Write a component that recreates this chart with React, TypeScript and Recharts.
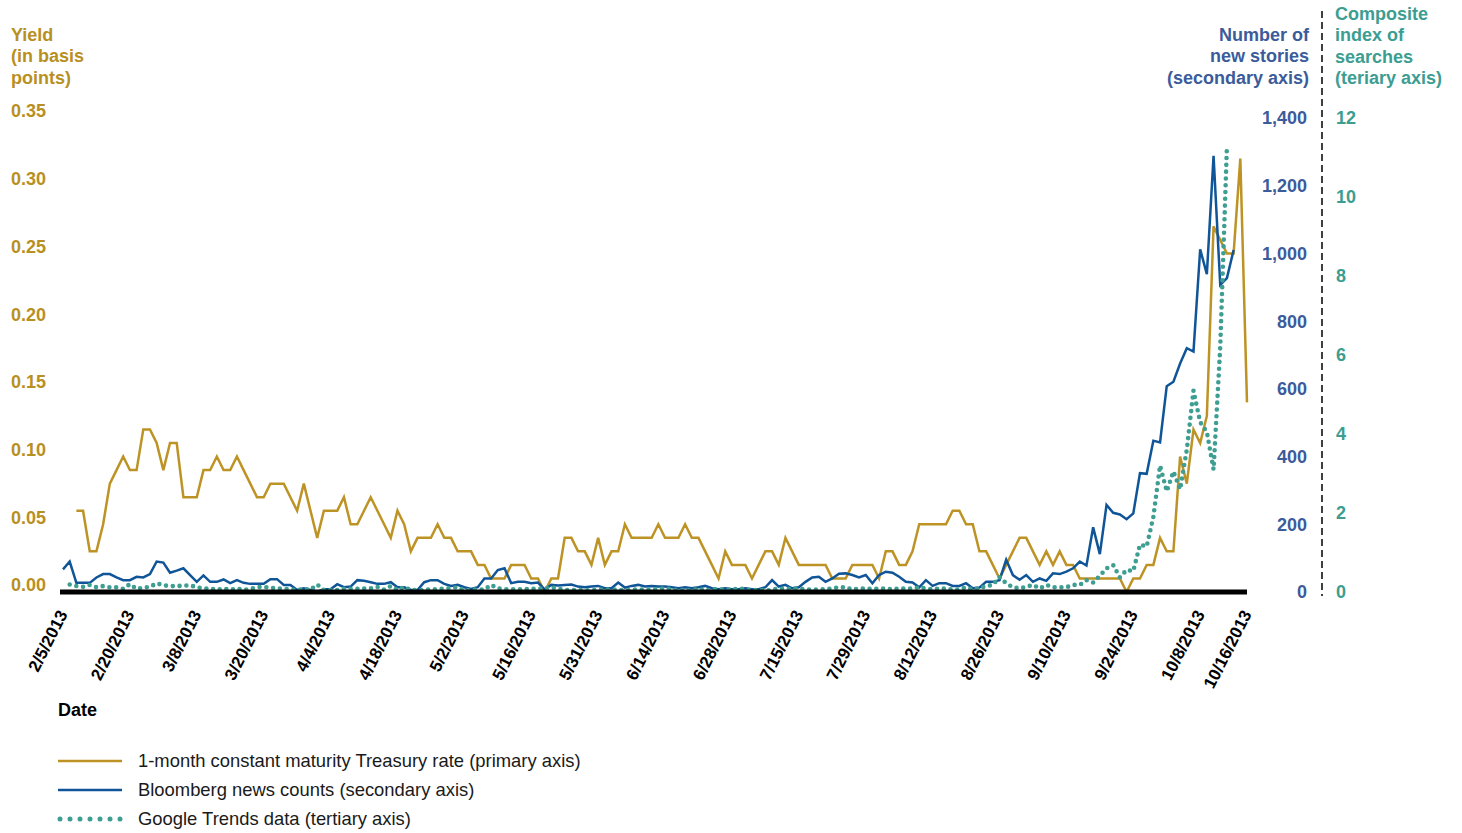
import { LineChart, Line, XAxis, YAxis } from "recharts";

const GOLD = "#BE9325";
const GOLD_TEXT = "#B8901F";
const BLUE = "#0F5597";
const BLUE_TEXT = "#3B5B9B";
const TEAL = "#3F9E92";
const TEAL_TEXT = "#3C9D91";
const FONT = '"Liberation Sans", Arial, sans-serif';

// 1-month constant maturity Treasury rate (primary axis), one value per trading day
const yieldRate: (number | null)[] = [
  null, null, 0.06, 0.06, 0.03, 0.03, 0.05, 0.08, 0.09, 0.1,
  0.09, 0.09, 0.12, 0.12, 0.11, 0.09, 0.11, 0.11, 0.07, 0.07,
  0.07, 0.09, 0.09, 0.1, 0.09, 0.09, 0.1, 0.09, 0.08, 0.07,
  0.07, 0.08, 0.08, 0.08, 0.07, 0.06, 0.08, 0.06, 0.04, 0.06,
  0.06, 0.06, 0.07, 0.05, 0.05, 0.06, 0.07, 0.06, 0.05, 0.04,
  0.06, 0.05, 0.03, 0.04, 0.04, 0.04, 0.05, 0.04, 0.04, 0.03,
  0.03, 0.03, 0.02, 0.02, 0.01, 0.01, 0.01, 0.02, 0.02, 0.02,
  0.01, 0.01, 0.0, 0.01, 0.01, 0.04, 0.04, 0.03, 0.03, 0.02,
  0.04, 0.02, 0.03, 0.03, 0.05, 0.04, 0.04, 0.04, 0.04, 0.05,
  0.04, 0.04, 0.04, 0.05, 0.04, 0.04, 0.03, 0.02, 0.01, 0.03,
  0.02, 0.02, 0.02, 0.01, 0.02, 0.03, 0.03, 0.02, 0.04, 0.03,
  0.02, 0.02, 0.02, 0.02, 0.02, 0.01, 0.01, 0.01, 0.02, 0.02,
  0.02, 0.02, 0.01, 0.03, 0.03, 0.02, 0.02, 0.03, 0.05, 0.05,
  0.05, 0.05, 0.05, 0.06, 0.06, 0.05, 0.05, 0.03, 0.03, 0.02,
  0.01, 0.02, 0.03, 0.04, 0.04, 0.03, 0.02, 0.03, 0.02, 0.03,
  0.02, 0.02, 0.01, 0.01, 0.01, 0.01, 0.01, 0.01, 0.01, 0.0,
  0.01, 0.01, 0.02, 0.02, 0.04, 0.03, 0.03, 0.1, 0.08, 0.12,
  0.11, 0.13, 0.27, 0.26, 0.25, 0.25, 0.32, 0.14,
];

// Bloomberg news counts (secondary axis)
const newsCount: (number | null)[] = [
  67, 90, 27, 27, 27, 43, 53, 53, 43, 35,
  35, 45, 43, 53, 90, 87, 57, 63, 70, 50,
  30, 49, 30, 30, 37, 26, 35, 27, 24, 24,
  24, 38, 38, 21, 21, 6, 11, 6, 1, 8,
  8, 23, 14, 16, 35, 33, 29, 24, 24, 29,
  14, 14, 6, 6, 29, 35, 35, 24, 18, 21,
  14, 9, 14, 40, 40, 65, 70, 26, 30, 30,
  26, 28, 8, 21, 19, 21, 22, 16, 14, 16,
  18, 11, 11, 28, 13, 18, 21, 16, 18, 16,
  16, 14, 11, 14, 11, 14, 18, 11, 8, 11,
  8, 8, 11, 8, 8, 14, 35, 16, 21, 11,
  14, 30, 43, 45, 30, 40, 54, 55, 50, 43,
  50, 26, 50, 60, 57, 45, 30, 28, 14, 35,
  18, 26, 26, 18, 18, 26, 11, 13, 30, 30,
  35, 95, 50, 36, 50, 30, 40, 33, 55, 53,
  60, 70, 90, 78, 191, 112, 257, 234, 229, 215,
  232, 351, 349, 447, 442, 608, 621, 675, 720, 710,
  1012, 939, 1288, 907, 927, 1010, null, null,
];

// Google Trends composite index (tertiary axis)
const searchIndex: (number | null)[] = [
  null, 0.19, 0.15, 0.13, 0.18, 0.12, 0.15, 0.12, 0.12, 0.08,
  0.2, 0.08, 0.11, 0.13, 0.22, 0.17, 0.15, 0.15, 0.16, 0.17,
  0.12, 0.09, 0.09, 0.05, 0.09, 0.05, 0.09, 0.05, 0.08, 0.12,
  0.13, 0.11, 0.09, 0.09, 0.06, 0.05, 0.07, 0.06, 0.19, 0.05,
  0.05, 0.05, 0.08, 0.08, 0.08, 0.09, 0.09, 0.13, 0.06, 0.15,
  0.05, 0.13, 0.05, 0.05, 0.05, 0.07, 0.07, 0.09, 0.1, 0.12,
  0.04, 0.06, 0.06, 0.06, 0.18, 0.09, 0.07, 0.07, 0.07, 0.07,
  0.08, 0.09, 0.09, 0.12, 0.08, 0.06, 0.04, 0.06, 0.04, 0.04,
  0.06, 0.06, 0.06, 0.06, 0.04, 0.06, 0.07, 0.06, 0.06, 0.09,
  0.09, 0.07, 0.03, 0.06, 0.03, 0.09, 0.03, 0.07, 0.06, 0.06,
  0.06, 0.09, 0.07, 0.03, 0.07, 0.03, 0.06, 0.09, 0.07, 0.09,
  0.09, 0.06, 0.06, 0.06, 0.07, 0.09, 0.12, 0.12, 0.06, 0.09,
  0.09, 0.07, 0.09, 0.09, 0.06, 0.09, 0.09, 0.09, 0.12, 0.09,
  0.07, 0.09, 0.09, 0.06, 0.06, 0.12, 0.06, 0.09, 0.15, 0.18,
  0.38, 0.22, 0.12, 0.09, 0.13, 0.18, 0.09, 0.18, 0.12, 0.12,
  0.12, 0.18, 0.18, 0.3, 0.24, 0.41, 0.6, 0.68, 0.37, 0.56,
  0.53, 1.2, 1.15, 1.9, 3.2, 2.55, 3.05, 2.6, 3.6, 5.1,
  4.3, 4.05, 3.1, 6.2, 11.3, null, null, null,
];

const tickIdx = [0, 10, 20, 30, 40, 50, 60, 70, 80, 90, 100, 110, 120, 130, 140, 150, 160, 170, 177];
const tickLabels = [
  "2/5/2013", "2/20/2013", "3/8/2013", "3/20/2013", "4/4/2013", "4/18/2013",
  "5/2/2013", "5/16/2013", "5/31/2013", "6/14/2013", "6/28/2013", "7/15/2013",
  "7/29/2013", "8/12/2013", "8/26/2013", "9/10/2013", "9/24/2013", "10/8/2013",
  "10/16/2013",
];
const yieldTicks = [0, 0.05, 0.1, 0.15, 0.2, 0.25, 0.3, 0.35];
const newsTicks = [0, 200, 400, 600, 800, 1000, 1200, 1400];
const searchTicks = [0, 2, 4, 6, 8, 10, 12];

const rows = yieldRate.map((v, i) => ({
  i,
  yield: v,
  news: newsCount[i],
  search: searchIndex[i],
}));

const tickText = { fontFamily: FONT, fontSize: 18, fontWeight: 700 };

function XTick({ x, y, payload }: any) {
  const label = tickLabels[tickIdx.indexOf(payload.value)];
  return (
    <text
      transform={`translate(${x + 5},${y + 14}) rotate(-63)`}
      textAnchor="end"
      fill="#000"
      style={{ ...tickText, fontSize: 17 }}
    >
      {label}
    </text>
  );
}

function LeftTick({ y, payload }: any) {
  return (
    <text x={11} y={y - 7} dy="0.36em" fill={GOLD_TEXT} style={tickText}>
      {payload.value.toFixed(2)}
    </text>
  );
}

function NewsTick({ y, payload }: any) {
  return (
    <text x={1307} y={y} dy="0.36em" textAnchor="end" fill={BLUE_TEXT} style={tickText}>
      {payload.value.toLocaleString("en-US")}
    </text>
  );
}

function SearchTick({ y, payload }: any) {
  return (
    <text x={1336} y={y} dy="0.36em" fill={TEAL_TEXT} style={tickText}>
      {payload.value}
    </text>
  );
}

const titleStyle = {
  position: "absolute" as const,
  fontSize: 18,
  fontWeight: 700,
  lineHeight: "21.3px",
};

function LegendRow({ color, dotted, label }: { color: string; dotted?: boolean; label: string }) {
  return (
    <div style={{ display: "flex", alignItems: "center", height: 29 }}>
      <svg width={66} height={10} style={{ display: "block" }}>
        {dotted ? (
          <line x1={3} y1={5} x2={64} y2={5} stroke={color} strokeWidth={5}
            strokeLinecap="round" strokeDasharray="0 10" />
        ) : (
          <line x1={1} y1={5} x2={65} y2={5} stroke={color} strokeWidth={2.5} />
        )}
      </svg>
      <span style={{ marginLeft: 15, fontSize: 18.4, color: "#1a1a1a" }}>{label}</span>
    </div>
  );
}

export default function App() {
  return (
    <div
      style={{
        position: "absolute",
        left: 0,
        top: 0,
        width: 1462,
        height: 833,
        background: "#fff",
        fontFamily: FONT,
      }}
    >
      <div style={{ ...titleStyle, left: 11, top: 25, color: GOLD_TEXT }}>
        Yield
        <br />
        (in basis
        <br />
        points)
      </div>
      <div style={{ ...titleStyle, right: 1462 - 1309, top: 25, color: BLUE_TEXT, textAlign: "right" }}>
        Number of
        <br />
        new stories
        <br />
        (secondary axis)
      </div>
      <div style={{ ...titleStyle, left: 1335, top: 4, color: TEAL_TEXT }}>
        Composite
        <br />
        index of
        <br />
        searches
        <br />
        (teriary axis)
      </div>

      <svg width={1462} height={833} style={{ position: "absolute", left: 0, top: 0, pointerEvents: "none" }}>
        <line x1={1322} y1={11} x2={1322} y2={596} stroke="#000" strokeWidth={1.5} strokeDasharray="7 4" />
      </svg>

      <LineChart
        width={1462}
        height={700}
        data={rows}
        margin={{ top: 118, right: 0, bottom: 0, left: 0 }}
      >
        <XAxis
          dataKey="i"
          type="number"
          domain={[0, 177]}
          ticks={tickIdx}
          interval={0}
          height={108}
          padding={{ left: 3, right: 0 }}
          axisLine={{ stroke: "#000", strokeWidth: 5 }}
          tickLine={false}
          tick={XTick}
        />
        <YAxis
          yAxisId="yield"
          orientation="left"
          width={60}
          domain={[0, 0.35]}
          ticks={yieldTicks}
          interval={0}
          axisLine={false}
          tickLine={false}
          tick={LeftTick}
        />
        <YAxis
          yAxisId="news"
          orientation="right"
          width={75}
          domain={[0, 1400]}
          ticks={newsTicks}
          interval={0}
          axisLine={false}
          tickLine={false}
          tick={NewsTick}
        />
        <YAxis
          yAxisId="search"
          orientation="right"
          width={140}
          domain={[0, 12]}
          ticks={searchTicks}
          interval={0}
          axisLine={false}
          tickLine={false}
          tick={SearchTick}
        />
        <Line
          yAxisId="yield"
          dataKey="yield"
          type="linear"
          stroke={GOLD}
          strokeWidth={2.5}
          dot={false}
          isAnimationActive={false}
        />
        <Line
          yAxisId="news"
          dataKey="news"
          type="linear"
          stroke={BLUE}
          strokeWidth={2.5}
          dot={false}
          isAnimationActive={false}
        />
        <Line
          yAxisId="search"
          dataKey="search"
          type="linear"
          stroke={TEAL}
          strokeWidth={4.6}
          strokeLinecap="round"
          strokeDasharray="0 6.8"
          dot={false}
          isAnimationActive={false}
        />
      </LineChart>

      <div style={{ position: "absolute", left: 58, top: 700, fontSize: 18, fontWeight: 700, color: "#000" }}>
        Date
      </div>

      <div style={{ position: "absolute", left: 57, top: 746 }}>
        <LegendRow color={GOLD} label="1-month constant maturity Treasury rate (primary axis)" />
        <LegendRow color={BLUE} label="Bloomberg news counts (secondary axis)" />
        <LegendRow color={TEAL} dotted label="Google Trends data (tertiary axis)" />
      </div>
    </div>
  );
}
